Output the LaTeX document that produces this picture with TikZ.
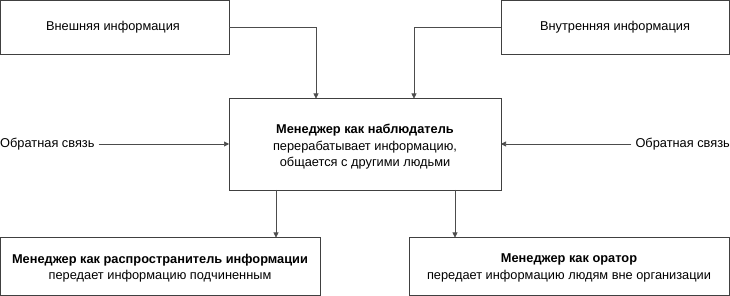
\documentclass[tikz,border=0pt]{standalone}
\usepackage{fontspec}
\setmainfont{Liberation Sans}
\usetikzlibrary{arrows.meta}
\begin{document}
\begin{tikzpicture}[x=1pt,y=-1pt,
  box/.style={draw=black!75, line width=0.6pt, fill=white},
  lbl/.style={font=\fontsize{12.8}{16.5}\selectfont, inner sep=0pt, align=center},
  conn/.style={draw=black!70, line width=0.6pt, -{Triangle[length=5pt,width=5pt]}}]
\useasboundingbox (0,0) rectangle (730,296);
% boxes
\draw[box] (0.5,0.5) rectangle (229,54);
\node[lbl] (ext) at (113,27) {Внешняя информация};
\coordinate (extR) at (229,27);
\draw[box] (501,0.5) rectangle (729.5,54);
\node[lbl] (int) at (615,27) {Внутренняя информация};
\coordinate (intL) at (501,27);
\draw[box] (229,98.5) rectangle (501,190);
\node[lbl] (mgr) at (365,147) {\textbf{Менеджер как наблюдатель}\\перерабатывает информацию,\\общается с другими людьми};
\draw[box] (0.5,237.5) rectangle (320,295.5);
\node[lbl] (dist) at (160,268) {\textbf{Менеджер как распространитель информации}\\передает информацию подчиненным};
\draw[box] (409,237.5) rectangle (729.5,295.5);
\node[lbl] (orat) at (569,268) {\textbf{Менеджер как оратор}\\передает информацию людям вне организации};
% feedback labels
\node[lbl, anchor=west] (fbl) at (0,144) {Обратная связь};
\node[lbl, anchor=east] (fbr) at (730,144) {Обратная связь};
% connectors
\coordinate (mgrTopL) at (316,98.5);
\coordinate (mgrTopR) at (414,98.5);
\draw[conn] (extR) -| (mgrTopL);
\draw[conn] (intL) -| (mgrTopR);
\coordinate (mgrL) at (229,144);
\coordinate (mgrR) at (501,144);
\draw[conn] ([xshift=4pt]fbl.east) -- (mgrL);
\draw[conn] ([xshift=-4pt]fbr.west) -- (mgrR);
\coordinate (mgrB1) at (276,190);
\coordinate (mgrB2) at (455,190);
\draw[conn] (mgrB1) -- (276,237.5);
\draw[conn] (mgrB2) -- (455,237.5);
\end{tikzpicture}
\end{document}
